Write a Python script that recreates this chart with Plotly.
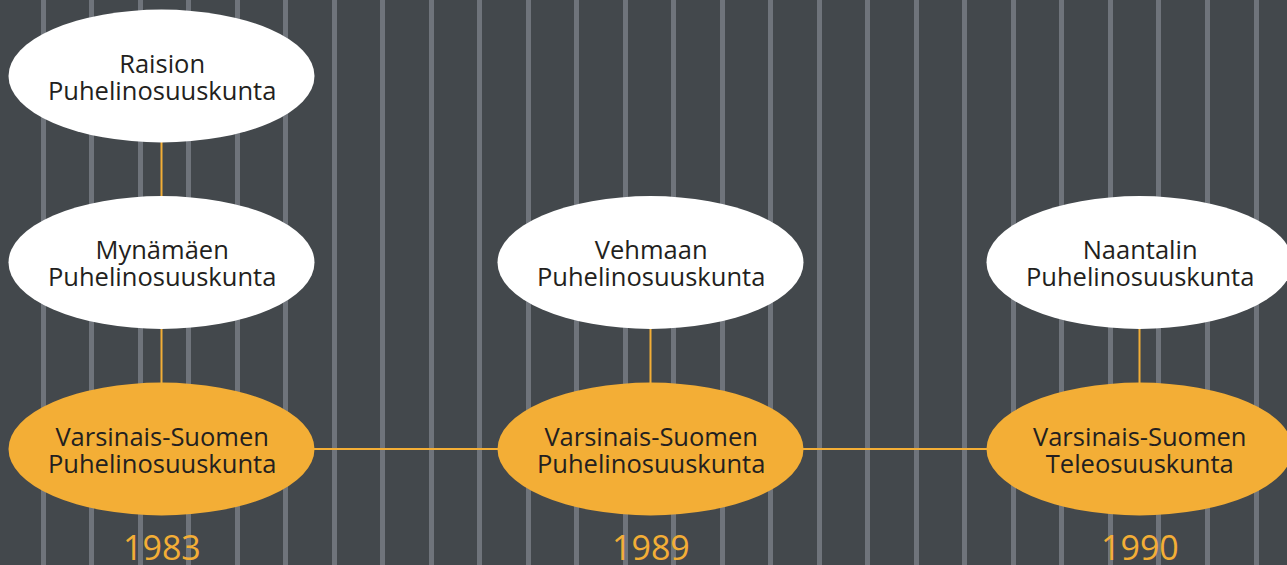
import plotly.graph_objects as go

# ---- data ----
years = [1983, 1989, 1990]
main_names = ["Varsinais-Suomen\nPuhelinosuuskunta",
              "Varsinais-Suomen\nPuhelinosuuskunta",
              "Varsinais-Suomen\nTeleosuuskunta"]
joined_names = ["Raision\nPuhelinosuuskunta",
                "Mynämäen\nPuhelinosuuskunta",
                "Vehmaan\nPuhelinosuuskunta",
                "Naantalin\nPuhelinosuuskunta"]
joined_years = [1983, 1983, 1989, 1990]
joined_levels = [2, 1, 1, 1]   # steps above the main line

# ---- styles ----
BG = "#43484c"
STRIPE = "#6f747b"
ORANGE = "#f3ae36"
TEXT = "#231f20"
FONT = "Open Sans"
W, H = 1287, 565
RX, RY = 0.3129, 0.356   # ellipse half-sizes in axis units
BASE_SIZE = 21            # controls line spacing
TEXT_SIZE = 25.5          # visible glyph size

fig = go.Figure()

col = {y: i for i, y in enumerate(years)}
MAIN_ROW = 2

def row_of(level):
    return MAIN_ROW - level

# horizontal connector between main nodes
fig.add_trace(go.Scatter(x=list(range(len(years))), y=[MAIN_ROW] * len(years),
                         mode="lines", line=dict(color=ORANGE, width=2),
                         hoverinfo="skip", showlegend=False))
# vertical connectors
for yr, lvl in zip(joined_years, joined_levels):
    c = col[yr]
    fig.add_trace(go.Scatter(x=[c, c], y=[row_of(lvl), row_of(lvl - 1)],
                             mode="lines", line=dict(color=ORANGE, width=2),
                             hoverinfo="skip", showlegend=False))

shapes = []
annotations = []

def add_node(c, r, name, fill):
    shapes.append(dict(type="circle", xref="x", yref="y",
                       x0=c - RX, x1=c + RX, y0=r - RY, y1=r + RY,
                       fillcolor=fill, line=dict(width=0), layer="above"))
    text = "<br>".join(f"<span style='font-size:{TEXT_SIZE}px'>{t}</span>"
                       for t in name.split("\n"))
    annotations.append(dict(x=c, y=r, xref="x", yref="y", text=text,
                            showarrow=False,
                            font=dict(family=FONT, size=BASE_SIZE, color=TEXT),
                            xanchor="center", yanchor="middle"))

for yr, name in zip(years, main_names):
    add_node(col[yr], MAIN_ROW, name, ORANGE)
    annotations.append(dict(x=col[yr], y=MAIN_ROW + 0.524, xref="x", yref="y",
                            text=str(yr), showarrow=False,
                            font=dict(family=FONT, size=34, color=ORANGE),
                            xanchor="center", yanchor="middle"))

for yr, lvl, name in zip(joined_years, joined_levels, joined_names):
    add_node(col[yr], row_of(lvl), name, "#ffffff")

fig.update_layout(
    width=W, height=H,
    margin=dict(l=0, r=0, t=0, b=0),
    paper_bgcolor=BG, plot_bgcolor=BG,
    shapes=shapes, annotations=annotations,
    showlegend=False,
    xaxis=dict(range=[-161.5 / 489, (W - 161.5) / 489],
               showgrid=True, gridcolor=STRIPE, gridwidth=4.5,
               tickmode="linear", tick0=(43 - 161.5) / 489, dtick=48.52 / 489,
               showticklabels=False, zeroline=False, showline=False, ticks="",
               fixedrange=True),
    yaxis=dict(range=[(H - 76) / 186.5, -76 / 186.5],
               showgrid=False, showticklabels=False, zeroline=False,
               showline=False, ticks="", fixedrange=True),
)

fig.write_html("out.html", config={"displayModeBar": False},
               post_script="document.body.style.margin='0';"
                           "document.body.style.overflow='hidden';")
